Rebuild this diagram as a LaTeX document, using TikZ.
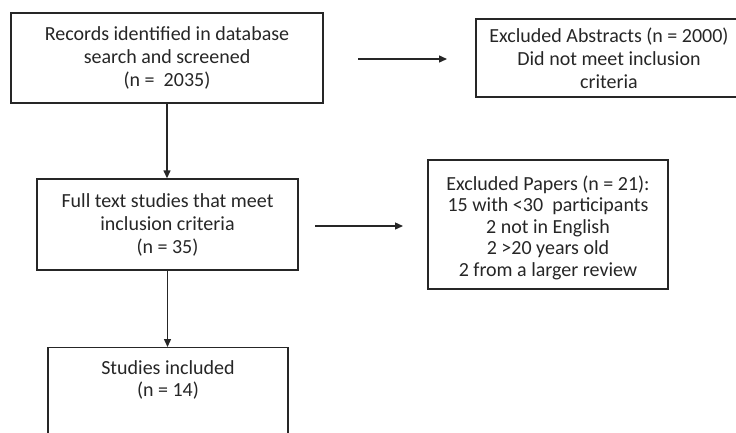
\documentclass[tikz,border=0pt]{standalone}
\usepackage{fontspec}
\setmainfont{Carlito}
\usetikzlibrary{arrows.meta}
\definecolor{ink}{HTML}{262626}
\begin{document}
\begin{tikzpicture}[x=1pt,y=-1pt,
  box/.style={draw=ink, line width=1.4pt, inner sep=0pt, align=center, text=ink,
    font=\fontsize{20}{23}\selectfont},
  conn/.style={draw=ink, line width=1.4pt, -{Triangle[length=8pt,width=7pt]}},
  txt/.style={align=center, text=ink, font=\fontsize{20}{22}\selectfont}]
\useasboundingbox (0,0) rectangle (736,432);
\begin{scope}
\clip (0,0) rectangle (736,432);
\node[box, minimum width=312pt, minimum height=90pt] (b1) at (167,58)
  {Records identified in database\\search and screened\\(n =\ \ 2035)};
\node[box, minimum width=266pt, minimum height=78pt] (b2) at (609,58)
  {Excluded Abstracts (n = 2000)\\Did not meet inclusion\\criteria};
\node[box, minimum width=261pt, minimum height=91pt] (b3) at (167.5,224.5)
  {Full text studies that meet\\inclusion criteria\\(n = 35)};
\node[box, minimum width=240pt, minimum height=129pt] (b4) at (548,224.5) {};
\node[txt, font=\fontsize{20}{21.5}\selectfont] (t4) at ([yshift=-3pt]b4.center)
  {Excluded Papers (n = 21):\\15 with <30\ \ participants\\2 not in English\\2 >20 years old\\2 from a larger review};
\node[box, minimum width=240pt, minimum height=100pt, anchor=north] (b5) at (168,347) {};
\node[txt, anchor=north] (t5) at ([yshift=-10pt]b5.north) {Studies included\\(n = 14)};
\coordinate (a1s) at (358,59);
\coordinate (a1e) at (447,59);
\coordinate (a2s) at (315,226);
\coordinate (a2e) at (403,226);
\draw[conn] (b1.south) -- (b3.north -| b1.south);
\draw[conn] (b3.south) -- (b5.north -| b3.south);
\draw[conn] (a1s) -- (a1e);
\draw[conn] (a2s) -- (a2e);
\end{scope}
\end{tikzpicture}
\end{document}
